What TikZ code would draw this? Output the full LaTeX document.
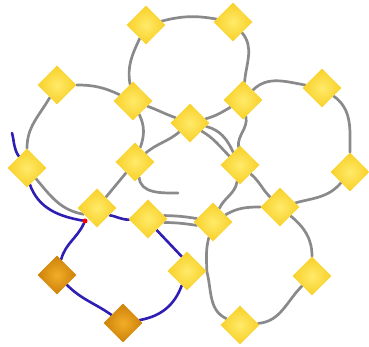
\documentclass[tikz,border=0pt]{standalone}
\usetikzlibrary{shapes.geometric, backgrounds}
\definecolor{beadIn}{RGB}{255,234,105}
\definecolor{beadOut}{RGB}{248,208,40}
\definecolor{goldIn}{RGB}{242,174,40}
\definecolor{goldOut}{RGB}{204,128,8}
\definecolor{strandGray}{RGB}{138,138,140}
\definecolor{chainBlue}{RGB}{46,30,180}

\begin{document}
\begin{tikzpicture}[
    x=1pt, y=1pt,
    % Base styles for beads and strands
    bead/.style={diamond, minimum size=39pt, inner sep=0pt, inner color=beadIn, outer color=beadOut},
    goldBead/.style={bead, inner color=goldIn, outer color=goldOut},
    strand/.style={draw=strandGray, line width=2.7pt, line cap=round},
    chain/.style={draw=chainBlue, line width=2.6pt, line cap=round},
    joint/.style={circle, fill=red, inner sep=0pt, minimum size=5pt}
]
\useasboundingbox (0,0) rectangle (369,347);

% --- Nodes ---
\node [bead] (topL) at (146,322) {};
\node [bead] (topR) at (233,325) {};
\node [bead] (leftUp) at (57,262) {};
\node [bead] (hubNW) at (133,246) {};
\node [bead] (hubNE) at (243,247) {};
\node [bead] (rightUp) at (322,259) {};
\node [bead] (hub) at (190,224) {};
\node [bead] (leftMid) at (27,179) {};
\node [bead] (hubW) at (135,185) {};
\node [bead] (hubE) at (240,182) {};
\node [bead] (rightMid) at (350,175) {};
\node [bead] (lowW) at (97,139) {};
\node [bead] (hubSW) at (148,128) {};
\node [bead] (hubSE) at (213,125) {};
\node [bead] (lowE) at (280,140) {};
\node [bead] (lowMid) at (187,76) {};
\node [bead] (rightLow) at (312,71) {};
\node [goldBead] (goldW) at (57,72) {};
\node [goldBead] (goldS) at (123,24) {};
\node [bead] (bottom) at (240,22) {};

% Loose ends of the strands
\coordinate (tail) at (12,214);
\coordinate (loose) at (178,154);
\node [joint] (join) at (85,126) {};

% --- Strands ---
\begin{scope}[on background layer]
% top ring
\draw [strand] (topL) to[bend left=12] (topR);
\draw [strand] (topR) to[out=-50, in=85] (hubNE);
\draw [strand] (hub) to[out=15, in=-150] (hubNE);
\draw [strand] (hubNW) to[out=-20, in=160] (hub);
\draw [strand] (hubNW) to[out=100, in=-115] (topL);

% left ring
\draw [strand] (leftUp) to[out=0, in=155] (hubNW);
\draw [strand] (leftUp) to[out=-120, in=90] (leftMid);
\draw [strand] (hubNW) to[out=-65, in=70] (hubW);
\draw [strand] (hubW) -- (lowW);
\draw [strand] (leftMid.-50) to[out=-50, in=170] (lowW.-155);

% right ring
\draw [strand] (hubNE) to[out=45, in=170] (rightUp);
\draw [strand] (rightUp) to[out=-35, in=90] (rightMid);
\draw [strand] (rightMid) to[out=-130, in=15] (lowE);
\draw [strand] (hubNE) to[out=-80, in=95] (hubE);
\draw [strand] (hubE) to[out=-40, in=135] (lowE);

% centre
\draw [strand] (hubW) to[out=40, in=-140] (hub);
\draw [strand] (hub.-12) to[out=-15, in=115] (hubE.118);
\draw [strand] (hub.-35) to[out=-30, in=135] (hubE.140);
\draw [strand] (hubE) to[out=-100, in=65] (hubSE);
\draw [strand] (hubSW.12) to[bend left=4] (hubSE.168);
\draw [strand] (hubSW.-12) to[bend left=4] (hubSE.-168);
\draw [strand] (hubW.-75) to[out=-85, in=180] (loose);

% bottom right ring
\draw [strand] (hubSE) to[out=30, in=180] (lowE);
\draw [strand] (lowE) to[out=-40, in=90] (rightLow);
\draw [strand] (rightLow) to[out=-135, in=5] (bottom);
\draw [strand] (hubSE) to[out=-105, in=90] (lowMid.east) to[out=-75, in=155] (bottom);

% blue chain
\draw [chain] (tail) to[out=-75, in=125] (leftMid.125);
\draw [chain] (leftMid.-80) to[out=-70, in=170] (join);
\draw [chain] (join) to[out=-115, in=75] (goldW);
\draw [chain] (goldW) to[out=-45, in=145] (goldS);
\draw [chain] (goldS) to[out=10, in=-110] (lowMid);
\draw [chain] (lowMid.110) -- (hubSW.-52);
\draw [chain] (lowW.-30) to[out=-10, in=180] (hubSW.-178);
\end{scope}

\end{tikzpicture}
\end{document}
